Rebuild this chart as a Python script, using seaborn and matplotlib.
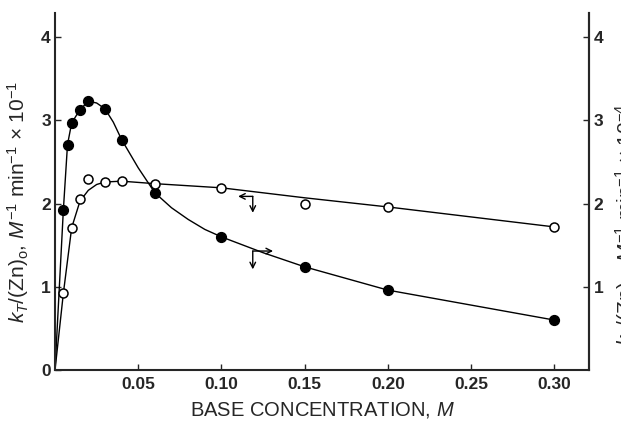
import matplotlib
matplotlib.use("Agg")
import matplotlib.pyplot as plt
import seaborn as sns
import pandas as pd

filled_x = [0.005, 0.0075, 0.010, 0.015, 0.020, 0.030, 0.040, 0.060, 0.100, 0.150, 0.200, 0.300]
filled_y = [1.92, 2.71, 2.97, 3.13, 3.23, 3.14, 2.77, 2.13, 1.60, 1.24, 0.96, 0.60]
open_x = [0.005, 0.010, 0.015, 0.020, 0.030, 0.040, 0.060, 0.100, 0.150, 0.200, 0.300]
open_y = [0.92, 1.71, 2.05, 2.30, 2.26, 2.27, 2.24, 2.19, 1.99, 1.96, 1.72]

# drawn curves (knots)
filled_curve_x = [0.0, 0.005, 0.0075, 0.010, 0.015, 0.020, 0.025, 0.030, 0.035, 0.040, 0.050,
                  0.060, 0.070, 0.080, 0.090, 0.100, 0.125, 0.150, 0.200, 0.300]
filled_curve_y = [0.0, 1.92, 2.71, 2.97, 3.13, 3.23, 3.21, 3.14, 2.98, 2.77, 2.43,
                  2.13, 1.95, 1.81, 1.69, 1.60, 1.41, 1.24, 0.96, 0.60]
open_curve_x = [0.0, 0.005, 0.010, 0.015, 0.020, 0.025, 0.030, 0.040, 0.060, 0.100, 0.150, 0.200, 0.300]
open_curve_y = [0.0, 0.92, 1.71, 2.03, 2.16, 2.23, 2.26, 2.27, 2.24, 2.19, 2.07, 1.96, 1.72]

x_ticks = [0.05, 0.10, 0.15, 0.20, 0.25, 0.30]
x_tick_labels = ["0.05", "0.10", "0.15", "0.20", "0.25", "0.30"]
y_ticks = [0, 1, 2, 3, 4]
y_tick_labels = ["0", "1", "2", "3", "4"]
y2_ticks = [1, 2, 3, 4]

sns.set_style("ticks")
plt.rcParams["font.family"] = ["Liberation Sans", "DejaVu Sans"]
plt.rcParams["mathtext.fontset"] = "custom"
plt.rcParams["mathtext.rm"] = "Liberation Sans"
plt.rcParams["mathtext.it"] = "Liberation Sans:italic"

fig = plt.figure(figsize=(6.21, 4.24), dpi=100)
ax = fig.add_axes([0.0886, 0.1274, 0.8604, 0.8416])

df_fc = pd.DataFrame({"x": filled_curve_x, "y": filled_curve_y})
df_oc = pd.DataFrame({"x": open_curve_x, "y": open_curve_y})
sns.lineplot(data=df_fc, x="x", y="y", ax=ax, color="black", linewidth=1.0, sort=False)
sns.lineplot(data=df_oc, x="x", y="y", ax=ax, color="black", linewidth=1.0, sort=False)

sns.scatterplot(x=filled_x, y=filled_y, ax=ax, color="black", edgecolor="black",
                s=50, linewidth=1.0, zorder=3)
sns.scatterplot(x=open_x, y=open_y, ax=ax, color="white", edgecolor="black",
                s=42, linewidth=1.1, zorder=3)

ax.set_xlim(0, 0.321)
ax.set_ylim(0, 4.29)
ax.set_xticks(x_ticks)
ax.set_xticklabels(x_tick_labels, fontweight="bold", fontsize=12.5)
ax.set_yticks(y_ticks)
ax.set_yticklabels(y_tick_labels, fontweight="bold", fontsize=12.5)
ax.tick_params(axis="x", direction="in", length=4, width=1, pad=5)
ax.tick_params(axis="y", direction="in", length=4, width=1, pad=3)
ax.set_xlabel(r"BASE CONCENTRATION, $M$", fontsize=14.5, labelpad=6)
ax.set_ylabel(r"$k_T$/(Zn)$_\mathrm{o}$, $M^{-1}$ min$^{-1}$ × 10$^{-1}$", fontsize=15)
ax.yaxis.set_label_coords(-0.045, 0.47)

for side in ["left", "bottom", "right"]:
    ax.spines[side].set_linewidth(1.5)
ax.spines["top"].set_visible(False)

ax2 = ax.twinx()
ax2.set_ylim(0, 4.29)
ax2.set_yticks(y2_ticks)
ax2.set_yticklabels([str(t) for t in y2_ticks], fontweight="bold", fontsize=12.5)
ax2.tick_params(axis="y", direction="in", length=4, width=1, pad=3)
for side in ["left", "top", "bottom"]:
    ax2.spines[side].set_visible(False)
ax2.spines["right"].set_linewidth(1.5)

# right-hand axis label, partly cut off at the page edge as in the scan
fig.text(1.008, 0.47, r"$k_T$/(Zn)$_\mathrm{o}$, $M^{-1}$ min$^{-1}$ × 10$^{-4}$",
         rotation=90, fontsize=15, ha="center", va="center")

# arrows telling which axis each curve belongs to
arrow = dict(arrowstyle="->", color="black", lw=1.0, shrinkA=0, shrinkB=0)
ax.annotate("", xy=(0.110, 2.087), xytext=(0.1188, 2.087), arrowprops=arrow)
ax.annotate("", xy=(0.1188, 1.89), xytext=(0.1188, 2.087), arrowprops=arrow)
ax.annotate("", xy=(0.131, 1.43), xytext=(0.1188, 1.43), arrowprops=arrow)
ax.annotate("", xy=(0.1188, 1.21), xytext=(0.1188, 1.43), arrowprops=arrow)

fig.savefig("out.png", dpi=100)
